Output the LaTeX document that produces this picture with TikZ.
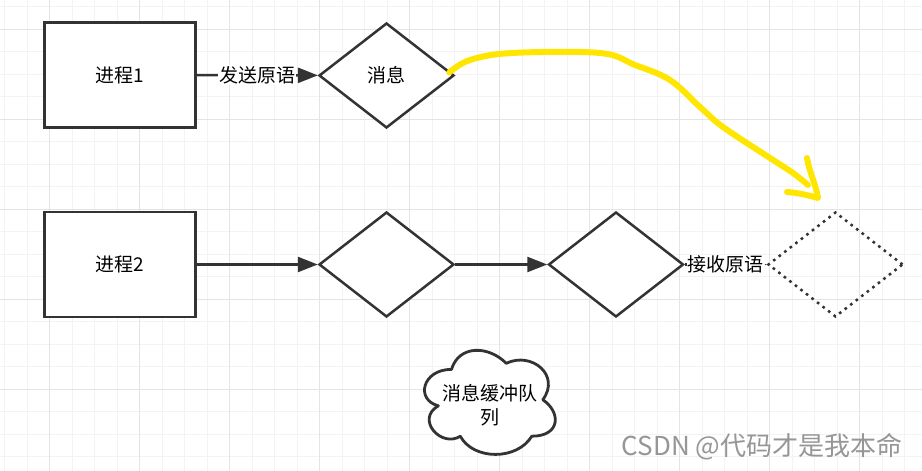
\documentclass[tikz,border=0pt]{standalone}
\usepackage{fontspec}
\setmainfont{Noto Sans CJK SC}
\usetikzlibrary{shapes.geometric,arrows.meta}
\definecolor{ink}{RGB}{51,51,51}
\definecolor{gridminor}{RGB}{243,243,243}
\definecolor{gridmajor}{RGB}{228,228,228}
\definecolor{pen}{RGB}{255,230,0}
\definecolor{wmgray}{RGB}{150,150,150}

\begin{document}
\begin{tikzpicture}[x=1pt, y=1pt,
    txt/.style={font=\fontsize{19}{24}\selectfont, text=black},
    proc/.style={txt, draw=ink, line width=2.5pt, rectangle, fill=white, minimum width=151pt, minimum height=105pt},
    msgbox/.style={txt, draw=ink, line width=2.5pt, diamond, fill=white, inner sep=0pt, minimum width=135pt, minimum height=105pt},
    cloudline/.style={draw=ink, line width=2.8pt, fill=white, line join=round},
    flow/.style={draw=ink, line width=2.5pt, -{Triangle[length=20pt,width=15pt]}},
    lbl/.style={txt, fill=white, inner sep=1pt},
    hilite/.style={draw=pen, line width=6pt, line cap=round, line join=round}]
    \useasboundingbox (0,0) rectangle (922,471);
    \fill[white] (0,0) rectangle (922,471);
    % grid
    \foreach \x in {4.5,27,...,922} \draw[gridminor, line width=1pt] (\x,0) -- (\x,471);
    \foreach \y in {14,36.5,...,471} \draw[gridminor, line width=1pt] (0,\y) -- (922,\y);
    \foreach \x in {49.5,139.5,...,922} \draw[gridmajor, line width=1pt] (\x,0) -- (\x,471);
    \foreach \y in {81.5,171.5,...,471} \draw[gridmajor, line width=1pt] (0,\y) -- (922,\y);

    \node[proc] (p1) at (120,396) {进程1};
    \node[msgbox] (msg) at (386.5,395.5) {消息};
    \node[proc] (p2) at (120,206.5) {进程2};
    \node[msgbox] (q1) at (386.5,206.5) {};
    \node[msgbox] (q2) at (616,206.5) {};
    \node[msgbox, fill=none, dash pattern=on 2.6pt off 4.4pt] (recv) at (835.5,206.5) {};

    % message buffer cloud
    \begin{scope}[shift={(415,132)}, x=146pt, y=-121.5pt]
        \draw[cloudline] (0.25,0.25) .. controls (0.05,0.25) and (0,0.5) .. (0.16,0.55)
            .. controls (0,0.66) and (0.18,0.9) .. (0.31,0.8)
            .. controls (0.4,1) and (0.7,1) .. (0.8,0.8)
            .. controls (1,0.8) and (1,0.6) .. (0.875,0.5)
            .. controls (1,0.3) and (0.8,0.1) .. (0.625,0.2)
            .. controls (0.5,0.05) and (0.3,0.05) .. (0.25,0.25) -- cycle;
    \end{scope}
    \node[txt, align=center] (buf) at (490,66) {消息缓冲队\\列};
    \node[font=\fontsize{26}{30}\selectfont, text=wmgray] (csdn) at (762,24) {CSDN @代码才是我本命};

    \draw[flow] (p1) -- node[lbl] {发送原语} (msg);
    \draw[flow] (p2) -- (q1);
    \draw[flow] (q1) -- (q2);
    \draw[flow] (q2) -- node[lbl] {接收原语} (recv);

    % hand drawn marker
    \coordinate (tip) at (818,273);
    \draw[hilite] plot[smooth, tension=0.6] coordinates {([shift={(-6,3)}]msg.east) (470,411) (512,418) (600,418) (635,406) (670,391) (700,364) (723,344) (770,313) (793,298) (808,286)};
    \draw[hilite] (807,313) to[out=-80,in=100] (tip) to[out=165,in=-5] (787,279);
\end{tikzpicture}
\end{document}
